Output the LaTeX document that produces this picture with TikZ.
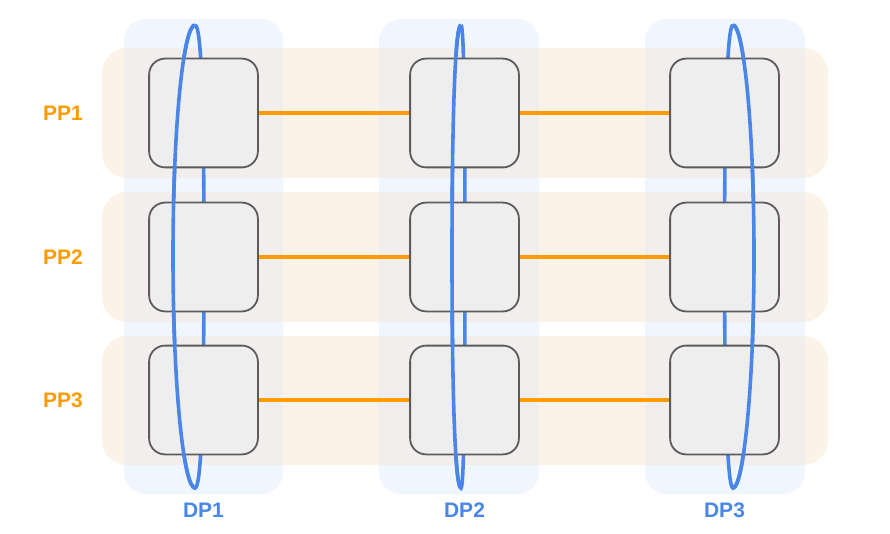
\documentclass[tikz,border=0pt]{standalone}
\usepackage{fontspec}
\setmainfont{Liberation Sans}
\begin{document}
\begin{tikzpicture}[x=1pt,y=-1pt,
  colbg/.style={fill=colblue,rounded corners=22pt},
  rowbg/.style={fill=roworange,rounded corners=25pt},
  worker/.style={draw=boxline,fill=boxfill,line width=1.8pt,rounded corners=16pt,minimum width=107pt,minimum height=107pt,inner sep=0pt},
  dpline/.style={draw=dpblue,line width=3.6pt},
  ppline/.style={draw=pporange,line width=3.4pt},
  ring/.style={draw=dpblue,line width=3.6pt},
  pplabel/.style={text=pporange,font=\bfseries\fontsize{21}{25}\selectfont},
  dplabel/.style={text=dpblue,font=\bfseries\fontsize{21}{25}\selectfont}]
\definecolor{colblue}{HTML}{F0F6FE}
\definecolor{roworange}{HTML}{FCF3E8}
\definecolor{overlapc}{HTML}{F2EEEE}
\definecolor{boxfill}{HTML}{EEEEEE}
\definecolor{boxline}{HTML}{5C5C5C}
\definecolor{dpblue}{HTML}{4A86E8}
\definecolor{pporange}{HTML}{FF9A00}
\useasboundingbox (0,0) rectangle (890,534);
\fill[white] (0,0) rectangle (890,534);
% column backgrounds
\path[colbg] (124,19) rectangle (283,494);
\path[colbg] (379,19) rectangle (539,494);
\path[colbg] (645,19) rectangle (805,494);
% row backgrounds with overlaps
\foreach \ya/\yb in {48/178,192/322,336/465}{
  \path[rowbg] (102,\ya) rectangle (828,\yb);
  \begin{scope}
    \clip[rounded corners=25pt] (102,\ya) rectangle (828,\yb);
    \fill[overlapc] (124,\ya) rectangle (283,\yb);
    \fill[overlapc] (379,\ya) rectangle (539,\yb);
    \fill[overlapc] (645,\ya) rectangle (805,\yb);
  \end{scope}
}
% worker nodes (placed, drawn later on top)
\path (203.5,113) node[worker] (b11) {} (464.5,113) node[worker] (b12) {} (724.5,113) node[worker] (b13) {};
\path (203.5,257) node[worker] (b21) {} (464.5,257) node[worker] (b22) {} (724.5,257) node[worker] (b23) {};
\path (203.5,400) node[worker] (b31) {} (464.5,400) node[worker] (b32) {} (724.5,400) node[worker] (b33) {};
% connectors
\foreach \c in {1,2,3}{
  \draw[dpline] (b1\c.south) -- (b2\c.north);
  \draw[dpline] (b2\c.south) -- (b3\c.north);
}
\foreach \r in {1,2,3}{
  \draw[ppline] (b\r1.east) -- (b\r2.west);
  \draw[ppline] (b\r2.east) -- (b\r3.west);
}
% rings (back part)
\draw[ring] (195,25) .. controls (184,25) and (173,120) .. (173,256) .. controls (173,390) and (184,488) .. (195,488) .. controls (202,488) and (204,390) .. (204,256) .. controls (204,120) and (202,25) .. (195,25);
\draw[ring] (461,25) .. controls (455,25) and (452,120) .. (452,256) .. controls (452,390) and (455,488) .. (461,488) .. controls (464,488) and (465,390) .. (465,256) .. controls (465,120) and (464,25) .. (461,25);
\draw[ring] (733,25) .. controls (727,25) and (724.5,120) .. (724.5,256) .. controls (724.5,390) and (727,488) .. (733,488) .. controls (743,488) and (754,390) .. (754,256) .. controls (754,120) and (743,25) .. (733,25);
% boxes on top
\foreach \r in {1,2,3}{\foreach \c in {1,2,3}{
  \path[worker] (b\r\c.south west) rectangle (b\r\c.north east);
}}
% rings (front part)
\draw[ring] (195,25) .. controls (184,25) and (173,120) .. (173,256) .. controls (173,390) and (184,488) .. (195,488);
\draw[ring] (461,25) .. controls (455,25) and (452,120) .. (452,256) .. controls (452,390) and (455,488) .. (461,488);
\draw[ring] (733,488) .. controls (743,488) and (754,390) .. (754,256) .. controls (754,120) and (743,25) .. (733,25);
% labels
\node[pplabel] (pp1) at (63,113) {PP1};
\node[pplabel] (pp2) at (63,257) {PP2};
\node[pplabel] (pp3) at (63,400) {PP3};
\node[dplabel] (dp1) at (203.5,510) {DP1};
\node[dplabel] (dp2) at (464.5,510) {DP2};
\node[dplabel] (dp3) at (724.5,510) {DP3};
\end{tikzpicture}
\end{document}
